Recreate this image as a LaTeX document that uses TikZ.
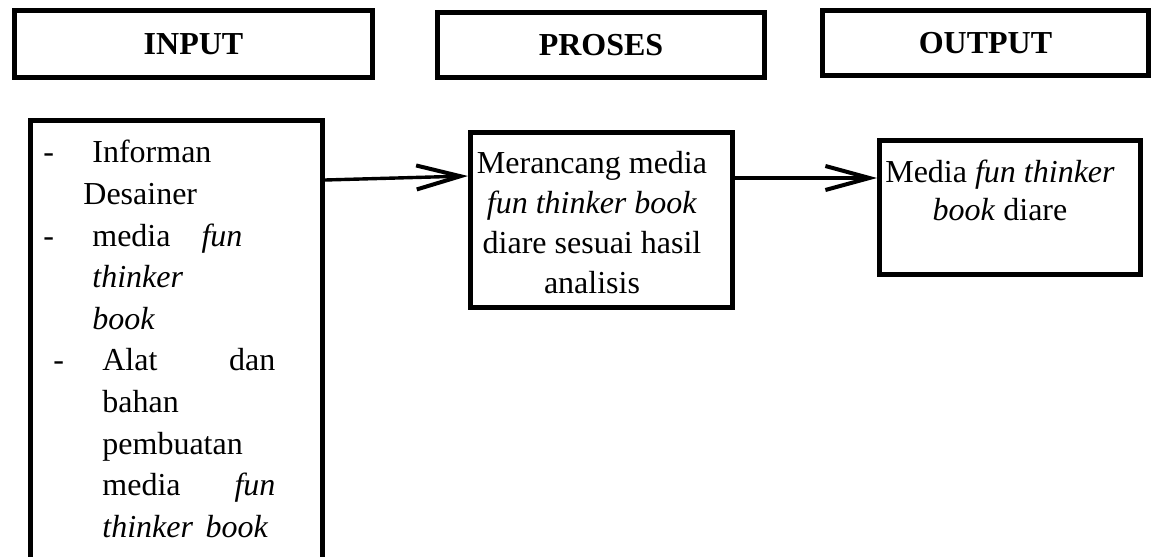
\documentclass[tikz,border=0pt]{standalone}
\usepackage{fontspec}
\setmainfont{Liberation Serif}
\usepackage{tikz}
\usetikzlibrary{arrows.meta,positioning,calc}
\tikzstyle{hdrbox}=[draw,line width=2.5pt,inner sep=0pt,font=\fontsize{16pt}{20pt}\selectfont\bfseries]
\tikzstyle{flowbox}=[draw,line width=2.5pt,inner sep=0pt]
\tikzstyle{flowtext}=[inner sep=0pt,font=\fontsize{16pt}{20.8pt}\selectfont]
\tikzstyle{flowedge}=[-{Straight Barb[length=22pt,width=12pt,line width=2pt]},line width=1.7pt]

\begin{document}
\begin{tikzpicture}[x=0.5pt,y=-0.5pt]

\clip (0,0) rectangle (1157,557);

\node[hdrbox,minimum width=179pt,minimum height=33.5pt] (INHDR) at (193.5,44) {INPUT};
\node[hdrbox,minimum width=163.5pt,minimum height=32.5pt] (PRHDR) at (601,45) {PROSES};
\node[hdrbox,minimum width=163pt,minimum height=32.5pt] (OUTHDR) at (985.5,43) {OUTPUT};

\node[flowbox,minimum width=146pt,minimum height=229.75pt] (IN) at (176.5,350.25) {};
\node[flowtext,anchor=north west,align=left] (INTXT) at ([xshift=7.5pt,yshift=-11pt]IN.north west)
{\makebox[24.5pt][l]{-}Informan\\
\hspace*{20pt}Desainer\\
\makebox[24.5pt][l]{-}\makebox[75pt][s]{media \textit{fun}}\\
\hspace*{24.5pt}\textit{thinker}\\
\hspace*{24.5pt}\textit{book}\\
\hspace*{5pt}\makebox[24.5pt][l]{-}\makebox[86.5pt][s]{Alat dan}\\
\hspace*{29.5pt}bahan\\
\hspace*{29.5pt}pembuatan\\
\hspace*{29.5pt}\makebox[86.5pt][s]{media \textit{fun}}\\
\hspace*{29.5pt}\makebox[83pt][s]{\textit{thinker book}}};

\node[flowbox,minimum width=131pt,minimum height=87.5pt] (PROC) at (601.5,220) {};
\node[flowtext,anchor=north,align=center,font=\fontsize{16pt}{20pt}\selectfont] (PROCTXT)
  at ([xshift=-4.75pt,yshift=-10.5pt]PROC.north)
{Merancang media\\ \textit{fun thinker book}\\ diare sesuai hasil\\ analisis};

\node[flowbox,minimum width=130.5pt,minimum height=67pt] (OUT) at (1010,207.5) {};
\node[flowtext,anchor=north,align=center,font=\fontsize{16pt}{19pt}\selectfont] (OUTTXT)
  at ([xshift=-5pt,yshift=-11pt]OUT.north)
{Media \textit{fun thinker}\\ \textit{book} diare};

\path
([yshift=-31pt]IN.north east) edge [flowedge] ([yshift=-23pt]PROC.north west)
([yshift=-24pt]PROC.north east) edge [flowedge] ([yshift=-20pt]OUT.north west);

\end{tikzpicture}
\end{document}
